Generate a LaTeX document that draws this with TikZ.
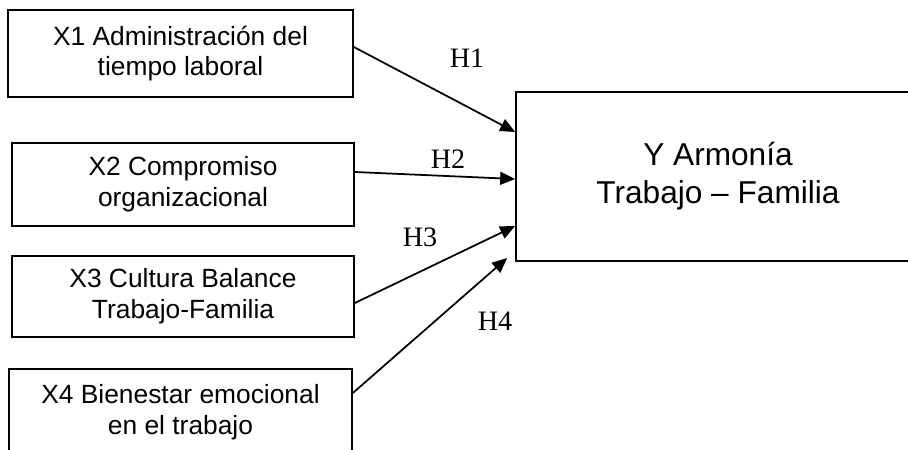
\documentclass[tikz,border=0pt]{standalone}
\usepackage{fontspec}
\setmainfont{Liberation Sans}
\newfontfamily\hypfont{Liberation Serif}
\usepackage{tikz}
\usetikzlibrary{calc,positioning,arrows.meta}
\tikzstyle{var}   = [rectangle, draw=black, line width=1pt, inner sep=0pt, align=center, font=\fontsize{15}{17.5}\selectfont]
\tikzstyle{arrow} = [line width=1pt, -{Triangle[length=0.3cm, width=0.26cm]}]
\tikzstyle{hyp}   = [font=\hypfont\fontsize{16}{18}\selectfont, inner sep=0pt]

\begin{document}
\begin{tikzpicture}[x=0.02cm, y=-0.02cm]
        \useasboundingbox (0,0) rectangle (908,449);

        \node[var, minimum width=6.9cm, minimum height=1.74cm] (x1) at (180.5,53.5) {X1 Administración del\\tiempo laboral};
        \node[var, minimum width=6.84cm, minimum height=1.66cm] (x2) at (183,184.5) {X2 Compromiso\\organizacional};
        \node[var, minimum width=6.84cm, minimum height=1.62cm] (x3) at (183,296.5) {X3 Cultura Balance\\Trabajo-Familia};
        \node[var, minimum width=6.86cm, minimum height=1.72cm] (x4) at (180.5,412) {X4 Bienestar emocional\\en el trabajo};

        \node[var, minimum width=8.08cm, minimum height=3.38cm, font=\fontsize{18}{21.5}\selectfont] (y) at (718,176.5) {Y Armonía\\Trabajo – Familia};

        \draw[arrow] ($(x1.east)+(0,-6.5)$) -- ($(y.west)+(0,-44.5)$);
        \draw[arrow] ($(x2.east)+(0,-12.5)$) -- ($(y.west)+(0,2.5)$);
        \draw[arrow] ($(x3.east)+(0,6.5)$) -- ($(y.west)+(0,49.5)$);
        \draw[arrow] ($(x4.east)+(0,-19)$) -- ($(y.west)+(-8,81.5)$);

        \node[hyp] (h1) at (467,58) {H1};
        \node[hyp] (h2) at (448,159) {H2};
        \node[hyp] (h3) at (420,237) {H3};
        \node[hyp] (h4) at (495,321) {H4};
    \end{tikzpicture}
\end{document}
